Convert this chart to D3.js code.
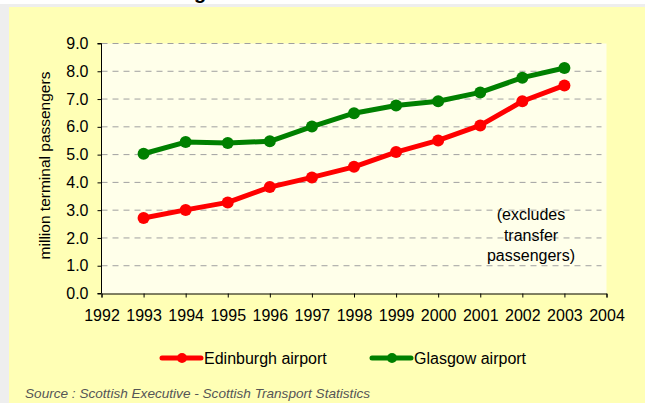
<!DOCTYPE html>
<html>
<head>
<meta charset="utf-8">
<script src="https://cdn.jsdelivr.net/npm/d3@7"></script>
<style>
  html, body { margin: 0; padding: 0; background: #fff; }
  svg { display: block; font-family: Arial, "Liberation Sans", sans-serif; }
</style>
</head>
<body>
<svg id="chart" width="645" height="403"></svg>
<script>
// data
const years = [1993, 1994, 1995, 1996, 1997, 1998, 1999, 2000, 2001, 2002, 2003];
const edinburgh = [2.72, 3.01, 3.28, 3.83, 4.18, 4.56, 5.09, 5.51, 6.05, 6.92, 7.49];
const glasgow = [5.03, 5.45, 5.42, 5.48, 6.01, 6.49, 6.77, 6.92, 7.24, 7.77, 8.12];
const yTicks = [0, 1, 2, 3, 4, 5, 6, 7, 8, 9];
const xTicks = d3.range(1992, 2005);
const seriesNames = ['Edinburgh airport', 'Glasgow airport'];
const seriesColors = ['#ff0000', '#008000'];
const note = ['(excludes', 'transfer', 'passengers)'];
const source = 'Source : Scottish Executive - Scottish Transport Statistics';

const svg = d3.select('#chart');

// outer frame + yellow panel
svg.append('rect').attr('x', 0).attr('y', 4).attr('width', 645).attr('height', 399).attr('fill', '#eeeeee');
svg.append('rect').attr('x', 9).attr('y', 7).attr('width', 636).attr('height', 396).attr('fill', '#ffffb5');

// bottom of the cut-off title
svg.append('text').attr('x', 194).attr('y', -1)
  .attr('font-size', 20).attr('font-weight', 'bold').text('g');

const x = d3.scaleLinear().domain([1992, 2004]).range([101.5, 606.5]);
const y = d3.scaleLinear().domain([0, 9]).range([293.5, 43.5]);

svg.append('rect')
  .attr('x', x(1992)).attr('y', y(9))
  .attr('width', x(2004) - x(1992)).attr('height', y(0) - y(9))
  .attr('fill', '#ffffea');

// dashed grid
svg.append('g').selectAll('line').data(yTicks.slice(1)).join('line')
  .attr('x1', x(1992)).attr('x2', x(2004) - 5)
  .attr('y1', d => y(d)).attr('y2', d => y(d))
  .attr('stroke', '#a0a0a0').attr('stroke-width', 1)
  .attr('stroke-dasharray', '6,5');

// axes
const yAxis = svg.append('g').attr('transform', `translate(${x(1992)},0)`)
  .call(d3.axisLeft(y).tickValues(yTicks).tickFormat(d3.format('.1f')).tickSize(4).tickPadding(9));
const xAxis = svg.append('g').attr('transform', `translate(0,${y(0)})`)
  .call(d3.axisBottom(x).tickValues(xTicks).tickFormat(d3.format('d')).tickSize(4).tickPadding(12));

[yAxis, xAxis].forEach(a => {
  a.select('.domain').attr('stroke', '#000');
  a.selectAll('.tick line').attr('stroke', '#000');
  a.selectAll('.tick text').attr('fill', '#000').attr('font-size', 16)
    .attr('font-family', 'Arial, "Liberation Sans", sans-serif');
});
yAxis.select('.domain').attr('d', `M-4,${y(9)}H0V${y(0)}H-4`);

svg.append('text')
  .attr('transform', `translate(50,${(y(0) + y(9)) / 2 - 3}) rotate(-90)`)
  .attr('text-anchor', 'middle')
  .attr('font-size', 15.5)
  .text('million terminal passengers');

// annotation
svg.append('g').selectAll('text').data(note).join('text')
  .attr('x', 531).attr('y', (d, i) => 220 + i * 20.5)
  .attr('text-anchor', 'middle').attr('font-size', 16)
  .text(d => d);

// series
const line = d3.line().x((d, i) => x(years[i])).y(d => y(d));
[edinburgh, glasgow].forEach((vals, k) => {
  const g = svg.append('g');
  g.append('path').datum(vals)
    .attr('d', line).attr('fill', 'none')
    .attr('stroke', seriesColors[k]).attr('stroke-width', 5)
    .attr('stroke-linejoin', 'round');
  g.selectAll('circle').data(vals).join('circle')
    .attr('cx', (d, i) => x(years[i])).attr('cy', d => y(d))
    .attr('r', 6).attr('fill', seriesColors[k]);
});

// legend
const legendX = [162, 372];
const leg = svg.append('g').selectAll('g').data(seriesNames).join('g')
  .attr('transform', (d, i) => `translate(${legendX[i]},358)`);
leg.append('line').attr('x1', 0).attr('x2', 39)
  .attr('stroke', (d, i) => seriesColors[i]).attr('stroke-width', 5).attr('stroke-linecap', 'round');
leg.append('circle').attr('cx', 20).attr('r', 5).attr('fill', (d, i) => seriesColors[i]);
leg.append('text').attr('x', 42).attr('y', 6).attr('font-size', 16).text(d => d);

svg.append('text').attr('x', 25).attr('y', 398)
  .attr('font-size', 13.6).attr('font-style', 'italic').attr('fill', '#555')
  .text(source);
</script>
</body>
</html>
